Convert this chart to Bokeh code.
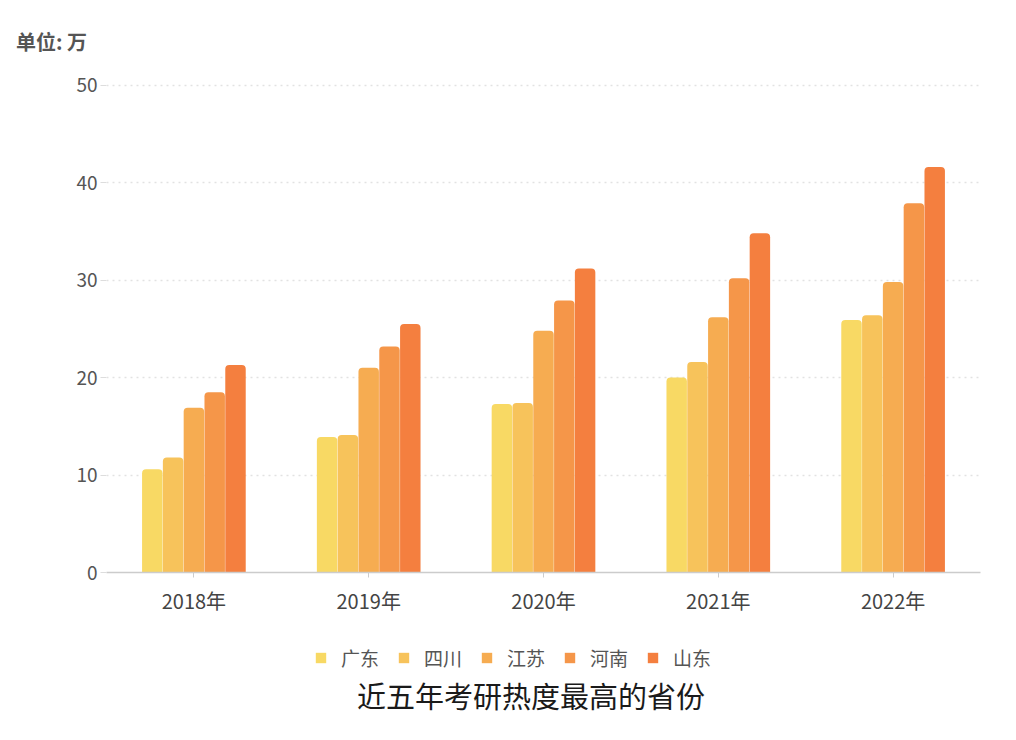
from bokeh.plotting import figure
from bokeh.models import ColumnDataSource, Legend, LegendItem, FixedTicker, Range1d, Div
from bokeh.layouts import column
from bokeh.transform import dodge
from bokeh.embed import file_html
from bokeh.resources import INLINE

years = ["2018年", "2019年", "2020年", "2021年", "2022年"]
provinces = ["广东", "四川", "江苏", "河南", "山东"]
guangdong = [10.6, 13.9, 17.3, 20.0, 25.9]
sichuan = [11.8, 14.1, 17.4, 21.6, 26.4]
jiangsu = [16.9, 21.0, 24.8, 26.2, 29.8]
henan = [18.5, 23.2, 27.9, 30.2, 37.9]
shandong = [21.3, 25.5, 31.2, 34.8, 41.6]
colors = ["#F8D964", "#F7C35B", "#F6AC51", "#F59649", "#F47F3F"]
y_ticks = [0, 10, 20, 30, 40, 50]
unit_text = "单位: 万"
title_text = "近五年考研热度最高的省份"

series = [guangdong, sichuan, jiangsu, henan, shandong]
src = ColumnDataSource(dict(year=years, **{f"s{i}": s for i, s in enumerate(series)}))

FONT = "Noto Sans CJK SC"

head = Div(text=f'<div style="font-family:\'{FONT}\';font-size:20px;font-weight:bold;'
                f'color:#555;line-height:24px;white-space:nowrap;padding:30px 0 0 16px;">{unit_text}</div>',
           width=1000, height=55, margin=0)

p = figure(x_range=years, y_range=Range1d(0, 51), width=1000, height=575,
           output_backend="svg", toolbar_location=None,
           min_border_left=106, min_border_right=20, min_border_top=20, min_border_bottom=58)
p.x_range.range_padding = 0
p.outline_line_color = None
p.background_fill_color = "white"

offsets = [-0.238, -0.119, 0.0, 0.119, 0.238]
for i, name in enumerate(provinces):
    p.vbar(x=dodge("year", offsets[i], range=p.x_range), top=f"s{i}", width=0.117,
           source=src, fill_color=colors[i], line_color=None, border_radius=(4, 4, 0, 0))

p.yaxis.ticker = FixedTicker(ticks=y_ticks)
p.yaxis.axis_line_color = None
p.yaxis.major_tick_line_color = "#dddddd"
p.yaxis.major_tick_out = 6
p.yaxis.major_tick_in = 0
p.yaxis.minor_tick_line_color = None
p.yaxis.major_label_text_font = FONT
p.yaxis.major_label_text_font_size = "19px"
p.yaxis.major_label_text_color = "#555555"
p.yaxis.major_label_standoff = 3

p.xaxis.axis_line_color = "#cccccc"
p.xaxis.axis_line_width = 1.5
p.xaxis.major_tick_line_color = "#cccccc"
p.xaxis.major_tick_out = 5
p.xaxis.major_tick_in = 0
p.xaxis.major_label_text_font = FONT
p.xaxis.major_label_text_font_size = "20px"
p.xaxis.major_label_text_color = "#444444"
p.xaxis.major_label_standoff = 8

p.xgrid.grid_line_color = None
p.ygrid.grid_line_color = "#e2e2e2"
p.ygrid.grid_line_dash = "2 4"
p.ygrid.grid_line_width = 1.5

# legend strip: same series, drawn out of view so only the legend shows
lg = figure(width=1000, height=50, x_range=years, y_range=Range1d(1000, 1001),
            x_axis_type=None, y_axis_type=None,
            output_backend="svg", toolbar_location=None,
            min_border_left=0, min_border_right=0, min_border_top=0, min_border_bottom=0)
lg.grid.grid_line_color = None
lg.outline_line_color = None
items = []
for i, name in enumerate(provinces):
    r = lg.vbar(x=dodge("year", offsets[i], range=lg.x_range), top=f"s{i}", width=0.117,
                source=src, fill_color=colors[i], line_color=None)
    items.append(LegendItem(label=name, renderers=[r]))
legend = Legend(items=items, orientation="horizontal", location=(208, 9),
                label_text_font=FONT, label_text_font_size="19px", label_text_color="#555555",
                glyph_width=13, glyph_height=13, spacing=18, label_standoff=14, label_height=22,
                border_line_color=None, background_fill_alpha=0, margin=0, padding=4)
lg.add_layout(legend, "center")

foot = Div(text=f'<div style="width:1000px;position:relative;left:31px;text-align:center;white-space:nowrap;'
                f'font-family:\'{FONT}\';font-size:29px;color:#1a1a1a;line-height:30px;">{title_text}</div>',
           width=1000, height=30, margin=0)

layout = column(head, p, lg, foot, spacing=0)
open("out.html", "w").write(file_html(layout, INLINE))
